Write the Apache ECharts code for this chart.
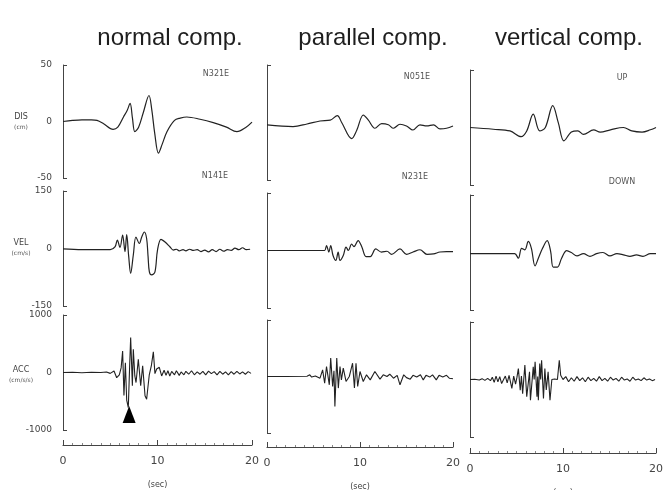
<!DOCTYPE html>
<html>
<head>
<meta charset="utf-8">
<script src="https://cdn.jsdelivr.net/npm/echarts@6/dist/echarts.min.js"></script>
<style>
  html, body { margin: 0; padding: 0; background: #fff; }
  #chart { width: 664px; height: 490px; }
</style>
</head>
<body>
<div id="chart"></div>
<script>
// column / row captions
var colTitles = ['normal comp.', 'parallel comp.', 'vertical comp.'];
var dirTop = ['N321E', 'N051E', 'UP'];
var dirBottom = ['N141E', 'N231E', 'DOWN'];
var rowNames = ['DIS', 'VEL', 'ACC'];
var rowUnits = ['(cm)', '(cm/s)', '(cm/s/s)'];
var rowLimits = [50, 150, 1000];

// traces, [sec, value]
var disNormal = [[0,0],[1,1],[2,1.5],[3,1.5],[3.6,1],[4.3,-2],[5.3,-7],[5.8,-5],[6.4,4],[6.8,10],[7.1,16],[7.35,3],[7.6,-9],[8.0,-5],[8.5,8],[9.1,23],[9.4,10],[9.7,-10],[10.1,-28],[10.5,-20],[11.0,-9],[11.8,1],[12.4,3],[13.1,4],[14.5,2],[15.9,-1],[17.3,-5],[18.4,-9],[19.3,-5.5],[20,-0.5]];
var velNormal = [[0,-1],[2,-3],[4,-3],[5,-3],[5.5,4],[5.75,22],[6.03,3],[6.31,35],[6.56,-8],[6.74,36],[6.95,-20],[7.16,-65],[7.44,-17],[7.72,30],[8.08,13],[8.33,30],[8.61,43],[8.85,26],[9.0,-20],[9.14,-61],[9.38,-69],[9.73,-61],[10.0,-4],[10.37,24],[10.8,17],[11.33,4],[11.67,-4],[12,-2],[12.3,-6],[12.7,-3],[13,-6],[13.4,-2],[13.8,-5],[14.2,-3],[14.6,-8],[15,-4],[15.4,-9],[15.8,-3],[16.2,-8],[16.6,-2],[17,-7],[17.4,-3],[17.8,-5],[18.2,1],[18.6,-3],[19,2],[19.4,-3],[19.8,-2]];
var accNormal = [[0,0],[1,5],[2,-5],[3,5],[4,0],[4.6,10],[5.0,-15],[5.4,25],[5.68,-90],[5.96,-40],[6.15,80],[6.31,375],[6.45,-400],[6.6,170],[6.74,-480],[6.91,-610],[7.05,100],[7.16,610],[7.34,-230],[7.44,405],[7.6,-60],[7.73,-175],[7.97,230],[8.22,-230],[8.43,115],[8.68,-405],[8.85,-465],[9.13,-40],[9.35,120],[9.56,360],[9.73,-20],[9.91,60],[10.19,90],[10.44,-60],[10.7,40],[10.9,-50],[11.1,30],[11.3,-60],[11.5,20],[11.8,-40],[12.0,30],[12.3,-50],[12.5,10],[12.8,-40],[13.0,20],[13.3,-30],[13.6,30],[13.9,-40],[14.2,10],[14.5,-30],[14.8,20],[15.1,-40],[15.4,25],[15.7,-20],[16.0,15],[16.3,-40],[16.6,20],[16.9,-30],[17.2,10],[17.5,-40],[17.8,15],[18.1,-30],[18.4,20],[18.7,-25],[19.0,10],[19.3,-30],[19.6,15],[19.9,-15]];

var disParallel = [[0,-2],[2.8,-3.5],[4.3,-1.3],[5.7,1.3],[6.8,2],[7.56,6],[8.03,0],[9.1,-14],[9.64,-7],[10.36,6.5],[10.9,2],[11.6,-5],[12.33,-1],[13.05,-2],[13.6,-5],[14.3,-1.5],[15.0,-3],[15.7,-6.5],[16.45,-2],[17.17,-3],[17.9,-2],[18.6,-5.5],[19.3,-5],[20,-3]];
var velParallel = [[0,0],[3,0],[5.9,0],[6.2,0],[6.4,13],[6.65,-4],[6.85,13],[7.1,-13],[7.4,-26],[7.65,-4],[7.85,-26],[8.2,-13],[8.5,9],[8.75,0],[9.1,17],[9.35,10],[9.8,26],[10.2,9],[10.65,-16],[11.1,-16],[11.7,4],[12.3,-4],[12.9,-2],[13.4,-10],[14.3,4],[15.0,-10],[15.7,-4],[16.45,2],[17.2,-10],[17.9,-9],[18.6,-4],[19.3,-3],[20,-3]];
var accParallel = [[0,0],[2,0],[4.3,5],[4.6,30],[4.8,-10],[5.2,10],[5.7,-30],[5.98,118],[6.2,-118],[6.4,177],[6.7,-147],[6.85,325],[7.06,-177],[7.2,100],[7.3,-530],[7.5,325],[7.67,-205],[7.85,177],[8.0,-60],[8.2,147],[8.5,-88],[8.85,0],[9.2,236],[9.4,-205],[9.57,236],[9.75,-177],[10.0,88],[10.35,-88],[10.7,30],[11.1,-60],[11.6,88],[12.15,-47],[12.5,30],[12.9,0],[13.2,40],[13.6,-30],[14.0,20],[14.3,-147],[14.7,30],[15.0,-20],[15.4,-47],[15.7,20],[16.1,-10],[16.5,30],[16.8,-60],[17.1,20],[17.5,-10],[17.8,30],[18.2,-60],[18.5,20],[18.9,-10],[19.3,20],[19.6,-30],[20,-40]];

var disVertical = [[0,0],[2.5,-1.5],[4.3,-3],[5.5,-8],[6.1,-3],[6.8,11.6],[7.5,-3],[8.1,0],[8.9,19],[9.5,4],[10.1,-11.6],[10.9,-4],[11.6,-3],[12.2,-6],[13.3,-2],[14.0,-4],[15.1,-2],[16.5,0],[17.4,-3],[18.5,-4],[19.4,-2],[20,0]];
var velVertical = [[0,-3],[4.8,-3],[5.2,-15],[5.55,11],[5.9,7],[6.27,29],[6.6,11],[6.99,-35],[7.35,-15],[7.8,11],[8.3,31],[8.67,3],[8.95,-38],[9.4,-38],[9.85,-15],[10.4,5],[10.9,0],[11.5,-9],[12.2,-3],[12.9,-10],[13.6,-3],[14.3,0],[15.05,-9],[15.8,-3],[16.5,-6],[17.2,-10],[17.9,-6],[18.6,-10],[19.4,-3],[20,-3]];
var accVertical = [[0,0],[0.5,5],[1.0,-10],[1.3,15],[1.6,-15],[1.9,20],[2.2,-20],[2.4,40],[2.6,-50],[2.8,60],[3.0,-40],[3.2,50],[3.4,-70],[3.6,-100],[3.8,60],[4.0,-60],[4.2,70],[4.35,-40],[4.5,-155],[4.7,60],[4.9,-80],[5.05,40],[5.2,190],[5.4,-185],[5.53,60],[5.66,-245],[5.9,250],[6.1,-300],[6.4,133],[6.5,-360],[6.8,220],[6.9,0],[7.0,307],[7.2,-300],[7.28,50],[7.35,-360],[7.5,278],[7.6,0],[7.7,336],[7.9,-330],[8.05,190],[8.2,-180],[8.4,133],[8.6,-360],[8.8,0],[9.1,10],[9.4,0],[9.6,336],[9.75,75],[10.0,0],[10.3,50],[10.6,-40],[10.9,30],[11.2,-30],[11.5,50],[11.8,-20],[12.1,30],[12.4,-40],[12.7,40],[13.0,-20],[13.3,20],[13.6,-30],[13.9,50],[14.2,-20],[14.5,20],[14.8,-30],[15.1,40],[15.4,-10],[15.7,20],[16.0,-30],[16.3,40],[16.6,-10],[16.9,10],[17.2,-30],[17.5,40],[17.8,-10],[18.1,10],[18.4,-20],[18.7,30],[19.0,-10],[19.3,10],[19.6,-20],[19.9,0]];

// arrival marker under the normal ACC trace
var arrowT = [7.0];
var arrowV = [-730];

var traces = [
  [disNormal, velNormal, accNormal],
  [disParallel, velParallel, accParallel],
  [disVertical, velVertical, accVertical]
];

// panel boxes (scan is slightly skewed, so each column differs a bit)
var colLeft = [63, 267, 470];
var colWidth = [189, 186, 186];
var rowTop = [[65, 191, 315], [65, 193, 320], [70, 195, 322]];
var rowHeight = [[113, 115, 115], [115, 115, 113], [115, 115, 115]];
var timeAxisOffset = [15, 14, 16];

var ink = '#222';
var grid = [], xAxis = [], yAxis = [], series = [];

for (var c = 0; c < 3; c++) {
  for (var r = 0; r < 3; r++) {
    var idx = c * 3 + r;
    var lim = rowLimits[r];
    grid.push({
      left: colLeft[c], top: rowTop[c][r],
      width: colWidth[c], height: rowHeight[c][r],
      outerBoundsMode: 'none'
    });
    var bottomRow = r === 2;
    xAxis.push({
      gridIndex: idx, type: 'value', min: 0, max: 20, interval: 10,
      show: bottomRow,
      position: 'bottom', offset: bottomRow ? timeAxisOffset[c] : 0,
      axisLine: { show: true, onZero: false, lineStyle: { color: '#444', width: 1.2 } },
      axisTick: { show: true, inside: true, length: 5, lineStyle: { color: '#444' } },
      minorTick: { show: true, splitNumber: 10, length: 2, lineStyle: { color: '#888' } },
      axisLabel: { margin: 11, fontSize: 11, color: '#444', fontFamily: 'DejaVu Sans' },
      splitLine: { show: false },
      name: bottomRow ? '(sec)' : '',
      nameLocation: 'middle', nameGap: 36,
      nameTextStyle: { fontSize: 8, color: '#444', fontFamily: 'DejaVu Sans' }
    });
    yAxis.push({
      gridIndex: idx, type: 'value', min: -lim, max: lim, interval: lim,
      axisLine: { show: true, onZero: false, lineStyle: { color: '#444', width: 1 } },
      axisTick: { show: true, inside: true, length: 4, customValues: [-lim, lim], lineStyle: { color: '#444' } },
      axisLabel: {
        show: c === 0, margin: 11, fontSize: 9, color: '#444',
        fontFamily: 'DejaVu Sans',
        formatter: function (v) { return String(v); }
      },
      splitLine: { show: false }
    });
    series.push({
      type: 'line', xAxisIndex: idx, yAxisIndex: idx,
      data: traces[c][r], showSymbol: false, silent: true,
      smooth: r === 2 ? false : 0.35,
      lineStyle: { color: ink, width: r === 2 ? 1.1 : 1.2 }
    });
  }
}

series.push({
  type: 'scatter', xAxisIndex: 2, yAxisIndex: 2,
  data: arrowT.map(function (t, i) { return [t, arrowV[i]]; }),
  symbol: 'triangle', symbolSize: [13, 17], silent: true,
  itemStyle: { color: '#000', opacity: 1 }
});

// text labels
var graphic = [];
var titleX = [170, 373, 569];
colTitles.forEach(function (t, i) {
  graphic.push({ type: 'text', x: titleX[i], y: 38, style: {
    text: t, fontSize: 24, fontFamily: 'Liberation Sans', fill: '#1e1e1e',
    align: 'center', verticalAlign: 'middle' } });
});
var dirTopPos = [[216, 74], [417, 77], [622, 78]];
var dirBotPos = [[215, 176], [415, 177], [622, 182]];
for (var k = 0; k < 3; k++) {
  graphic.push({ type: 'text', x: dirTopPos[k][0], y: dirTopPos[k][1], style: {
    text: dirTop[k], fontSize: 8, fontFamily: 'DejaVu Sans', fill: '#555',
    align: 'center', verticalAlign: 'middle' } });
  graphic.push({ type: 'text', x: dirBotPos[k][0], y: dirBotPos[k][1], style: {
    text: dirBottom[k], fontSize: 8, fontFamily: 'DejaVu Sans', fill: '#555',
    align: 'center', verticalAlign: 'middle' } });
}
var rowLabelY = [117, 243, 370];
rowNames.forEach(function (n, i) {
  graphic.push({ type: 'text', x: 21, y: rowLabelY[i], style: {
    text: n, fontSize: 8, fontFamily: 'DejaVu Sans', fill: '#444',
    align: 'center', verticalAlign: 'middle' } });
  graphic.push({ type: 'text', x: 21, y: rowLabelY[i] + 10, style: {
    text: rowUnits[i], fontSize: 6, fontFamily: 'DejaVu Sans', fill: '#555',
    align: 'center', verticalAlign: 'middle' } });
});

var chart = echarts.init(document.getElementById('chart'));
chart.setOption({
  animation: false,
  backgroundColor: '#fff',
  grid: grid,
  xAxis: xAxis,
  yAxis: yAxis,
  series: series,
  graphic: graphic
});
</script>
</body>
</html>
